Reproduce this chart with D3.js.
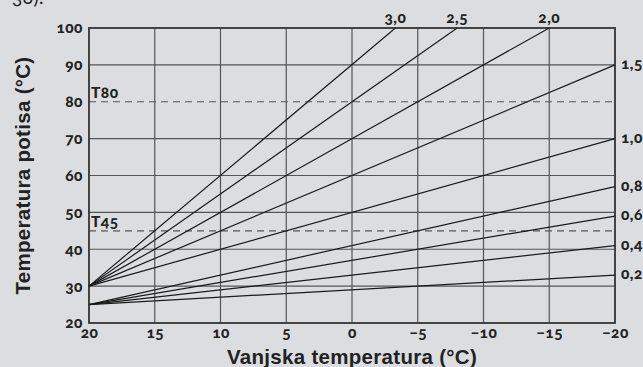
<!DOCTYPE html>
<html><head><meta charset="utf-8">
<script src="https://cdn.jsdelivr.net/npm/d3@7"></script>
<style>
html,body{margin:0;padding:0;background:#dcdde0;}
svg{display:block;}
.num{font-family:Lato, "Open Sans", sans-serif;font-weight:900;font-variant-numeric:oldstyle-nums;letter-spacing:0.5px;}
</style></head>
<body>
<svg id="c" width="643" height="367"></svg>
<script>
// Data
const xTicks = [20, 15, 10, 5, 0, -5, -10, -15, -20];
const xTickLabels = ["20", "15", "10", "5", "0", "\u22125", "\u221210", "\u221215", "\u221220"];
const yTicks = [20, 30, 40, 50, 60, 70, 80, 90, 100];
const curveLabels = ["3,0", "2,5", "2,0", "1,5", "1,0", "0,8", "0,6", "0,4", "0,2"];
const curveStartX = [20, 20, 20, 20, 20, 20, 20, 20, 20];
const curveStartY = [30, 30, 30, 30, 30, 25, 25, 25, 25];
const curveEndX = [-3.3, -8, -15, -20, -20, -20, -20, -20, -20];
const curveEndY = [100, 100, 100, 90, 70, 57, 49, 41, 33];
const refNames = ["T80", "T45"];
const refValues = [80, 45];

const svg = d3.select("#c");
const L = 89, R = 615, T = 28, B = 323;
const x = d3.scaleLinear().domain([20, -20]).range([L, R]);
const y = d3.scaleLinear().domain([20, 100]).range([B, T]);
const FS = 15.5;

// fragment of surrounding text
svg.append("text").attr("x", 12).attr("y", 4).attr("class", "num")
  .attr("font-size", 19).style("font-weight", "normal").attr("fill", "#222").text("30).");

// grid
const g = svg.append("g");
g.selectAll(".vg").data(xTicks.slice(1, -1)).join("line")
  .attr("x1", d => x(d)).attr("x2", d => x(d)).attr("y1", T).attr("y2", B)
  .attr("stroke", "#555").attr("stroke-width", 1.2);
g.selectAll(".hg").data(yTicks.slice(1, -1).filter(d => !refValues.includes(d))).join("line")
  .attr("x1", L).attr("x2", R).attr("y1", d => y(d)).attr("y2", d => y(d))
  .attr("stroke", "#555").attr("stroke-width", 1.2);

// reference dashed lines
g.selectAll(".ref").data(refValues).join("line")
  .attr("x1", L).attr("x2", R).attr("y1", d => y(d)).attr("y2", d => y(d))
  .attr("stroke", "#555").attr("stroke-width", 1.2).attr("stroke-dasharray", "7,5");
g.selectAll(".refl").data(refNames).join("text")
  .attr("class", "num")
  .attr("x", L + 2).attr("y", (d, i) => y(refValues[i]) - 4)
  .attr("font-size", FS).attr("fill", "#222").text(d => d);

// frame
svg.append("rect").attr("x", L).attr("y", T).attr("width", R - L).attr("height", B - T)
  .attr("fill", "none").attr("stroke", "#333").attr("stroke-width", 1.8);

// curves
svg.append("g").selectAll("line").data(curveLabels).join("line")
  .attr("x1", (d, i) => x(curveStartX[i])).attr("y1", (d, i) => y(curveStartY[i]))
  .attr("x2", (d, i) => x(curveEndX[i])).attr("y2", (d, i) => y(curveEndY[i]))
  .attr("stroke", "#1a1a1a").attr("stroke-width", 1.2);

// curve labels
svg.append("g").selectAll("text").data(curveLabels).join("text")
  .attr("class", "num")
  .attr("x", (d, i) => curveEndY[i] >= 100 ? x(curveEndX[i]) : x(curveEndX[i]) + 6)
  .attr("y", (d, i) => curveEndY[i] >= 100 ? T - 5 : y(curveEndY[i]) + 4)
  .attr("text-anchor", (d, i) => curveEndY[i] >= 100 ? "middle" : "start")
  .attr("font-size", FS).attr("fill", "#222").text(d => d);

// axes labels
const xAxis = d3.axisBottom(x).tickValues(xTicks).tickSize(0).tickPadding(4)
  .tickFormat((d, i) => xTickLabels[i]);
const xa = svg.append("g").attr("transform", `translate(0,${B})`).call(xAxis);
xa.select(".domain").remove();
xa.selectAll("text").attr("class", "num").attr("font-size", FS).attr("fill", "#222");

const yAxis = d3.axisLeft(y).tickValues(yTicks).tickSize(0).tickPadding(6);
const ya = svg.append("g").attr("transform", `translate(${L},0)`).call(yAxis);
ya.select(".domain").remove();
ya.selectAll("text").attr("class", "num").attr("font-size", FS).attr("fill", "#222");

// titles
svg.append("text").attr("x", (L + R) / 2).attr("y", 364).attr("text-anchor", "middle")
  .attr("font-family", "Liberation Sans, Arial, sans-serif").attr("font-weight", "bold")
  .attr("letter-spacing", 0.3)
  .attr("font-size", 20.5).attr("fill", "#222").text("Vanjska temperatura (°C)");
svg.append("text").attr("transform", `translate(30,${(T + B) / 2}) rotate(-90)`)
  .attr("text-anchor", "middle")
  .attr("font-family", "Liberation Sans, Arial, sans-serif").attr("font-weight", "bold")
  .attr("letter-spacing", 0.3)
  .attr("font-size", 20.5).attr("fill", "#222").text("Temperatura potisa (°C)");
</script>
</body></html>
